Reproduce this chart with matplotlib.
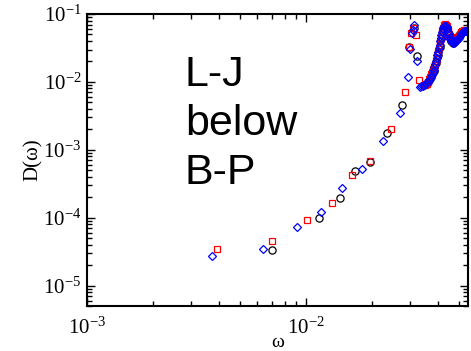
import matplotlib
matplotlib.use("Agg")
import matplotlib.pyplot as plt
from matplotlib.ticker import LogLocator, NullFormatter

plt.rcParams['font.family'] = ['Liberation Serif', 'DejaVu Serif']
plt.rcParams['mathtext.fontset'] = 'custom'
plt.rcParams['mathtext.rm'] = 'Liberation Serif'
plt.rcParams['mathtext.it'] = 'Liberation Serif:italic'

# black circles
circ_w = [7.0e-3, 1.147e-2, 1.43e-2, 1.68e-2, 1.97e-2, 2.335e-2, 2.735e-2, 2.96e-2,
          3.12e-2, 3.21e-2, 3.48e-2, 3.60e-2, 3.73e-2, 3.83e-2, 3.92e-2, 4.01e-2,
          4.09e-2, 4.18e-2, 4.26e-2, 4.34e-2, 4.42e-2, 4.50e-2, 4.60e-2, 4.72e-2,
          4.86e-2, 5.00e-2, 5.15e-2, 5.30e-2, 5.45e-2]
circ_d = [3.39e-5, 1.0e-4, 1.97e-4, 4.83e-4, 6.55e-4, 1.74e-3, 4.59e-3, 3.31e-2,
          6.16e-2, 2.41e-2, 9.04e-3, 1.01e-2, 1.2e-2, 1.45e-2, 1.9e-2, 2.5e-2,
          3.3e-2, 4.6e-2, 6.2e-2, 6.9e-2, 6.2e-2, 5.0e-2, 4.0e-2, 3.8e-2,
          4.4e-2, 4.9e-2, 5.4e-2, 5.7e-2, 5.6e-2]

# red squares
sq_w = [3.94e-3, 7.0e-3, 1.01e-2, 1.315e-2, 1.617e-2, 1.97e-2, 2.44e-2, 2.83e-2,
        2.96e-2, 3.02e-2, 3.08e-2, 3.17e-2, 3.29e-2, 3.50e-2, 3.56e-2, 3.62e-2,
        3.66e-2, 3.70e-2, 3.74e-2, 3.78e-2, 3.81e-2, 3.85e-2, 3.88e-2, 3.92e-2,
        3.95e-2, 3.99e-2, 4.02e-2, 4.05e-2, 4.08e-2, 4.11e-2, 4.14e-2, 4.17e-2,
        4.20e-2, 4.23e-2, 4.26e-2, 4.30e-2, 4.33e-2, 4.37e-2, 4.40e-2, 4.44e-2,
        4.47e-2, 4.51e-2, 4.55e-2, 4.59e-2, 4.63e-2, 4.68e-2, 4.73e-2, 4.79e-2,
        4.85e-2, 4.91e-2, 4.98e-2, 5.05e-2, 5.12e-2, 5.19e-2, 5.26e-2, 5.33e-2,
        5.40e-2, 5.47e-2]
sq_d = [3.47e-5, 4.59e-5, 9.35e-5, 1.66e-4, 4.29e-4, 6.8e-4, 2.01e-3, 7.06e-3,
        3.31e-2, 5.2e-2, 6.3e-2, 4.91e-2, 1.07e-2, 9.1e-3, 9.35e-3, 1.0e-2,
        1.1e-2, 1.2e-2, 1.3e-2, 1.42e-2, 1.55e-2, 1.68e-2, 1.8e-2, 2.0e-2,
        2.2e-2, 2.45e-2, 2.75e-2, 3.1e-2, 3.5e-2, 4.0e-2, 4.5e-2, 5.1e-2,
        5.8e-2, 6.3e-2, 6.8e-2, 7.0e-2, 7.1e-2, 6.9e-2, 6.6e-2, 6.1e-2,
        5.6e-2, 5.1e-2, 4.6e-2, 4.3e-2, 4.0e-2, 3.9e-2, 3.9e-2, 4.1e-2,
        4.3e-2, 4.55e-2, 4.8e-2, 5.1e-2, 5.4e-2, 5.6e-2, 5.8e-2, 5.8e-2,
        5.7e-2, 5.6e-2]

# blue diamonds
dia_w = [3.73e-3, 6.38e-3, 9.07e-3, 1.175e-2, 1.468e-2, 1.81e-2, 2.25e-2, 2.685e-2,
         2.93e-2, 3.0e-2, 3.04e-2, 3.09e-2, 3.12e-2, 3.21e-2, 3.315e-2, 3.37e-2,
         3.42e-2, 3.47e-2, 3.53e-2, 3.59e-2, 3.644e-2, 3.68e-2, 3.72e-2, 3.76e-2,
         3.80e-2, 3.83e-2, 3.86e-2, 3.89e-2, 3.92e-2, 3.95e-2, 3.99e-2, 4.02e-2,
         4.05e-2, 4.08e-2, 4.115e-2, 4.14e-2, 4.16e-2, 4.19e-2, 4.225e-2, 4.26e-2,
         4.29e-2, 4.32e-2, 4.36e-2, 4.40e-2, 4.43e-2, 4.47e-2, 4.50e-2, 4.53e-2,
         4.57e-2, 4.60e-2, 4.64e-2, 4.69e-2, 4.74e-2, 4.79e-2, 4.84e-2, 4.89e-2,
         4.94e-2, 5.00e-2, 5.05e-2, 5.10e-2, 5.16e-2, 5.21e-2, 5.27e-2, 5.32e-2,
         5.38e-2, 5.43e-2, 5.49e-2]
dia_d = [2.70e-5, 3.50e-5, 7.3e-5, 1.225e-4, 2.70e-4, 5.26e-4, 1.37e-3, 3.54e-3,
         1.2e-2, 3.06e-2, 5.2e-2, 5.82e-2, 6.89e-2, 2.06e-2, 8.44e-3, 8.6e-3,
         8.73e-3, 9.0e-3, 9.35e-3, 9.8e-3, 1.034e-2, 1.1e-2, 1.184e-2, 1.28e-2,
         1.40e-2, 1.52e-2, 1.66e-2, 1.84e-2, 2.035e-2, 2.25e-2, 2.49e-2, 2.8e-2,
         3.16e-2, 3.55e-2, 4.01e-2, 4.45e-2, 4.91e-2, 5.45e-2, 6.02e-2, 6.4e-2,
         6.66e-2, 6.75e-2, 6.66e-2, 6.3e-2, 6.02e-2, 5.5e-2, 5.08e-2, 4.6e-2,
         4.29e-2, 4.0e-2, 3.88e-2, 3.8e-2, 3.75e-2, 3.85e-2, 4.01e-2, 4.15e-2,
         4.29e-2, 4.5e-2, 4.75e-2, 5.0e-2, 5.25e-2, 5.45e-2, 5.62e-2, 5.65e-2,
         5.62e-2, 5.55e-2, 5.43e-2]

label_text = "L-J\nbelow\nB-P"

fig = plt.figure(figsize=(4.71, 3.51), dpi=100)
ax = fig.add_axes([0.1847, 0.1282, 0.8089, 0.8319])

ax.plot(circ_w, circ_d, 'o', ms=5.2, mfc='none', mec='black', mew=0.9)
ax.plot(sq_w, sq_d, 's', ms=4.7, mfc='none', mec='red', mew=0.9)
ax.plot(dia_w, dia_d, 'D', ms=3.8, mfc='none', mec='blue', mew=0.9)

ax.set_xscale('log')
ax.set_yscale('log')
ax.set_xlim(1e-3, 0.055)
ax.set_ylim(5e-6, 1e-1)

ax.xaxis.set_major_locator(LogLocator(base=10))
ax.yaxis.set_major_locator(LogLocator(base=10))
ax.xaxis.set_minor_locator(LogLocator(base=10, subs=range(2, 10)))
ax.yaxis.set_minor_locator(LogLocator(base=10, subs=range(2, 10)))
ax.xaxis.set_minor_formatter(NullFormatter())
ax.yaxis.set_minor_formatter(NullFormatter())

ax.tick_params(which='both', direction='in', top=True, right=True, width=1.0)
ax.tick_params(which='major', length=6, labelsize=15)
ax.tick_params(which='minor', length=3.5)
ax.tick_params(axis='x', which='major', pad=8)
ax.tick_params(axis='y', which='major', pad=4)
for s in ax.spines.values():
    s.set_linewidth(1.5)

ax.set_xlabel('ω', fontsize=14, labelpad=-3)
ax.set_ylabel('D(ω)', fontsize=15, labelpad=0)

ax.text(0.257, 0.86, label_text, transform=ax.transAxes, family='Liberation Sans',
        fontsize=31, va='top', ha='left', linespacing=1.3)

fig.savefig('out.png', dpi=100)
